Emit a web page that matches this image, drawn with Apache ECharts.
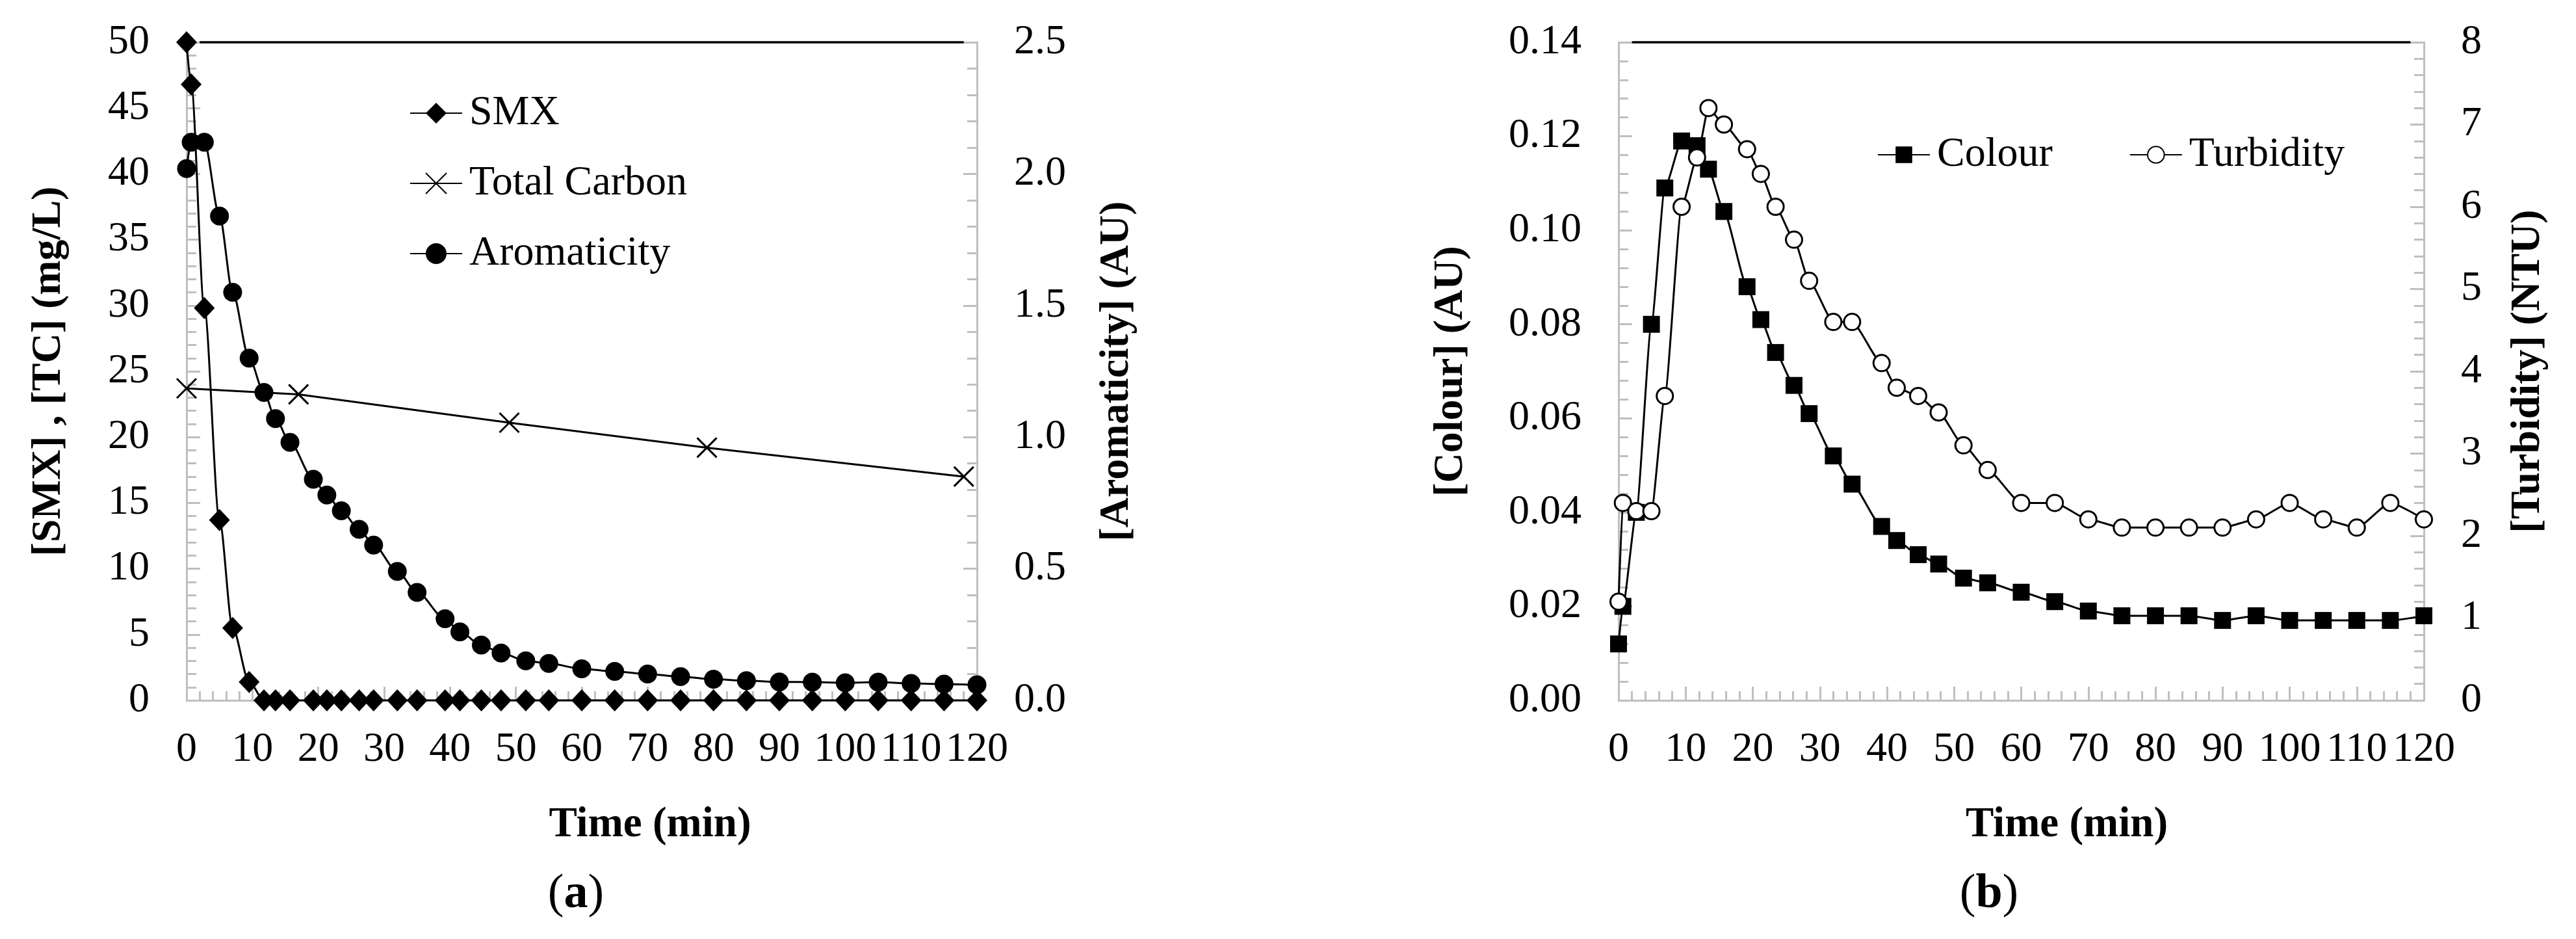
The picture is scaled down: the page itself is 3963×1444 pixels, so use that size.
<!DOCTYPE html>
<html>
<head>
<meta charset="utf-8">
<script src="https://cdn.jsdelivr.net/npm/echarts@6/dist/echarts.min.js"></script>
<style>
  html, body { margin: 0; padding: 0; background: #fff; }
  #chart { width: 3963px; height: 1444px; }
</style>
</head>
<body>
<div id="chart"></div>
<script>
// (a) sampling times (min) and values
var timeA = [0, 0.7, 2.7, 5, 7, 9.5, 11.75, 13.5, 15.7, 19.25, 21.3, 23.5, 26.2, 28.4, 32, 35,
  39.25, 41.5, 44.75, 47.75, 51.5, 55, 60, 65, 70, 75, 80, 85, 90, 95, 100, 105, 110, 115, 120];
var smx = [50, 46.8, 29.8, 13.7, 5.5, 1.4, 0, 0, 0, 0, 0, 0, 0, 0, 0, 0,
  0, 0, 0, 0, 0, 0, 0, 0, 0, 0, 0, 0, 0, 0, 0, 0, 0, 0, 0];
var aromaticity = [2.02, 2.12, 2.12, 1.84, 1.55, 1.30, 1.17, 1.07, 0.98, 0.84, 0.78, 0.72, 0.65, 0.59, 0.49, 0.41,
  0.31, 0.26, 0.21, 0.18, 0.15, 0.14, 0.12, 0.11, 0.10, 0.09, 0.08, 0.075, 0.07, 0.069, 0.067, 0.069, 0.064, 0.062, 0.059];
var tcTime = [0, 17, 49, 79, 118];
var tc = [23.7, 23.25, 21.1, 19.2, 17.0];

// (b) sampling times (min) and values
var timeB = [0, 0.65, 2.65, 4.9, 6.9, 9.4, 11.7, 13.4, 15.7, 19.15, 21.2, 23.4, 26.15, 28.4, 32, 34.8,
  39.2, 41.45, 44.65, 47.7, 51.4, 55, 60, 65, 70, 75, 80, 85, 90, 95, 100, 105, 110, 115, 120];
var colour = [0.012, 0.020, 0.040, 0.080, 0.109, 0.119, 0.118, 0.113, 0.104, 0.088, 0.081, 0.074, 0.067, 0.061, 0.052, 0.046,
  0.037, 0.034, 0.031, 0.029, 0.026, 0.025, 0.023, 0.021, 0.019, 0.018, 0.018, 0.018, 0.017, 0.018, 0.017, 0.017, 0.017, 0.017, 0.018];
var turbidity = [1.2, 2.4, 2.3, 2.3, 3.7, 6.0, 6.6, 7.2, 7.0, 6.7, 6.4, 6.0, 5.6, 5.1, 4.6, 4.6,
  4.1, 3.8, 3.7, 3.5, 3.1, 2.8, 2.4, 2.4, 2.2, 2.1, 2.1, 2.1, 2.1, 2.2, 2.4, 2.2, 2.1, 2.4, 2.2];

// top border of each plot area (x from, x to)
var frameX = [2, 118];

var FONT = "'Liberation Serif', 'Times New Roman', serif";
var GRAY = '#BFBFBF';

function pairs(xs, ys) {
  return xs.map(function (x, i) { return [x, ys[i]]; });
}

function xAxisOf(grid, shift) {
  return {
    type: 'value', gridIndex: grid, min: 0, max: 120, interval: 10,
    axisLine: { lineStyle: { color: GRAY, width: 3 } },
    axisTick: { inside: true, length: 21, lineStyle: { color: GRAY, width: 3 } },
    minorTick: { show: true, splitNumber: 5, length: 14, lineStyle: { color: GRAY, width: 3 } },
    splitLine: { show: false },
    axisLabel: { color: '#000', fontFamily: FONT, fontSize: 64, margin: 44 },
    name: 'Time (min)', nameLocation: 'middle', nameGap: 160,
    nameTextStyle: { color: '#000', fontFamily: FONT, fontSize: 65, fontWeight: 'bold', padding: [0, 0, 0, shift] }
  };
}

function yAxisOf(grid, pos, max, step, digits, name, gap) {
  return {
    type: 'value', gridIndex: grid, position: pos, min: 0, max: max, interval: step,
    axisLine: { show: true, lineStyle: { color: GRAY, width: 3 } },
    axisTick: { show: true, inside: true, length: 21, lineStyle: { color: GRAY, width: 3 } },
    minorTick: { show: true, splitNumber: 5, length: 15, lineStyle: { color: GRAY, width: 3 } },
    splitLine: { show: false },
    axisLabel: {
      color: '#000', fontFamily: FONT, fontSize: 64, margin: 57,
      formatter: function (v) { return v.toFixed(digits); }
    },
    name: name, nameLocation: 'middle', nameGap: gap, nameRotate: 90,
    nameTextStyle: { color: '#000', fontFamily: FONT, fontSize: 64, fontWeight: 'bold' }
  };
}

var lineBase = { type: 'line', smooth: 0.3, smoothMonotone: 'x', clip: false, lineStyle: { color: '#000', width: 3 } };

function series(extra) {
  return Object.assign({}, lineBase, extra);
}

var legendText = { color: '#000', fontFamily: FONT, fontSize: 64, lineHeight: 66, padding: [0, 0, 0, 6] };
var richLabel = {
  p: { fontFamily: FONT, fontSize: 74, fill: '#000' },
  b: { fontFamily: FONT, fontSize: 74, fontWeight: 'bold', fill: '#000' }
};

var chart = echarts.init(document.getElementById('chart'));

chart.setOption({
  backgroundColor: '#fff',
  animation: false,
  textStyle: { fontFamily: FONT },
  grid: [
    { left: 287, top: 65, width: 1216, height: 1012 },
    { left: 2490, top: 65, width: 1239, height: 1012 }
  ],
  xAxis: [xAxisOf(0, 210), xAxisOf(1, 140)],
  yAxis: [
    yAxisOf(0, 'left', 50, 5, 0, '[SMX] , [TC] (mg/L)', 180),
    yAxisOf(0, 'right', 2.5, 0.5, 1, '[Aromaticity] (AU)', 183),
    yAxisOf(1, 'left', 0.14, 0.02, 2, '[Colour] (AU)', 226),
    yAxisOf(1, 'right', 8, 1, 0, '[Turbidity] (NTU)', 128)
  ],
  legend: [
    {
      data: ['SMX', 'Total Carbon', 'Aromaticity'],
      orient: 'vertical', left: 625, top: 136,
      itemWidth: 80, itemHeight: 40, itemGap: 42,
      textStyle: legendText
    },
    {
      data: ['Colour', 'Turbidity'],
      orient: 'horizontal', left: 2883, top: 200,
      itemWidth: 80, itemHeight: 32, itemGap: 118,
      textStyle: legendText
    }
  ],
  graphic: [
    {
      type: 'text', x: 886, y: 1376,
      style: { text: '{p|(}{b|a}{p|)}', textAlign: 'center', textVerticalAlign: 'middle', rich: richLabel }
    },
    {
      type: 'text', x: 3060, y: 1376,
      style: { text: '{p|(}{b|b}{p|)}', textAlign: 'center', textVerticalAlign: 'middle', rich: richLabel }
    }
  ],
  series: [
    series({
      name: 'frameA', xAxisIndex: 0, yAxisIndex: 0, smooth: false, symbol: 'none', silent: true,
      lineStyle: { color: '#000', width: 3.5 },
      data: pairs(frameX, frameX.map(function () { return 50; }))
    }),
    series({
      name: 'SMX', xAxisIndex: 0, yAxisIndex: 0,
      symbol: 'diamond', symbolSize: [32, 34], itemStyle: { color: '#000' },
      data: pairs(timeA, smx)
    }),
    series({
      name: 'Total Carbon', xAxisIndex: 0, yAxisIndex: 0, smooth: false,
      symbol: 'path://M0,0L10,10M10,0L0,10', symbolSize: 30,
      itemStyle: { color: '#000', borderColor: '#000', borderWidth: 3 },
      data: pairs(tcTime, tc)
    }),
    series({
      name: 'Aromaticity', xAxisIndex: 0, yAxisIndex: 1,
      symbol: 'circle', symbolSize: 29, itemStyle: { color: '#000' },
      data: pairs(timeA, aromaticity)
    }),
    series({
      name: 'frameB', xAxisIndex: 1, yAxisIndex: 2, smooth: false, symbol: 'none', silent: true,
      lineStyle: { color: '#000', width: 3.5 },
      data: pairs(frameX, frameX.map(function () { return 0.14; }))
    }),
    series({
      name: 'Colour', xAxisIndex: 1, yAxisIndex: 2, smooth: 0.2,
      symbol: 'rect', symbolSize: 26, itemStyle: { color: '#000' },
      data: pairs(timeB, colour)
    }),
    series({
      name: 'Turbidity', xAxisIndex: 1, yAxisIndex: 3, smooth: 0.2,
      symbol: 'circle', symbolSize: 25,
      itemStyle: { color: '#fff', borderColor: '#000', borderWidth: 3 },
      data: pairs(timeB, turbidity)
    })
  ]
});
</script>
</body>
</html>
